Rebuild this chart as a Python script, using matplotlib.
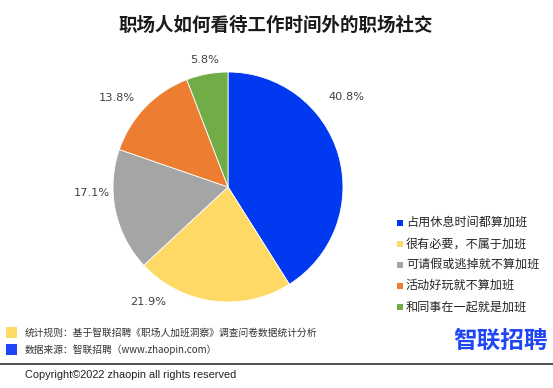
import numpy as np
import matplotlib
matplotlib.use("Agg")
import matplotlib.pyplot as plt
from matplotlib.patches import Rectangle
from matplotlib.lines import Line2D

plt.rcParams['font.family'] = ['Noto Sans CJK SC', 'DejaVu Sans']

title = "职场人如何看待工作时间外的职场社交"
categories = ["占用休息时间都算加班", "很有必要，不属于加班", "可请假或逃掉就不算加班",
              "活动好玩就不算加班", "和同事在一起就是加班"]
values = [40.8, 21.9, 17.1, 13.8, 5.8]
colors = ["#0039F0", "#FFD966", "#A5A5A5", "#ED7D31", "#70AD47"]
# label placement (angle in degrees, radius in pie radii)
label_angles = [37.1, 235.3, 182.5, 141.3, 100.3]
label_radii = [1.297, 1.216, 1.188, 1.237, 1.12]
note_lines = ["统计规则：基于智联招聘《职场人加班洞察》调查问卷数据统计分析",
              "数据来源：智联招聘（www.zhaopin.com）"]
note_colors = ["#FFD966", "#1F45F5"]
logo = "智联招聘"
copyright_text = "Copyright©2022 zhaopin all rights reserved"

W, H = 553, 388
fig = plt.figure(figsize=(W / 100, H / 100), dpi=100)
fig.patch.set_facecolor("white")

cx, cy, r = 228, 187, 115
ax = fig.add_axes([(cx - r) / W, (H - cy - r) / H, 2 * r / W, 2 * r / H])
ax.pie(values, colors=colors, startangle=90, counterclock=False, radius=1,
       wedgeprops=dict(linewidth=0.6, edgecolor="white"))
ax.set_xlim(-1, 1)
ax.set_ylim(-1, 1)
ax.set_aspect("equal")
ax.axis("off")
for v, a, rr in zip(values, label_angles, label_radii):
    t = np.deg2rad(a)
    ax.text(rr * np.cos(t), rr * np.sin(t), f"{v:.1f}%", ha="center", va="center",
            fontsize=8.2, color="#404040", family="DejaVu Sans", clip_on=False)

fig.text(276 / W, 1 - 25.5 / H, title, ha="center", va="center",
         fontsize=13.3, fontweight="bold", color="#1a1a1a")

# legend
ly0, ldy = 222.7, 21.0
for i, (c, lab) in enumerate(zip(colors, categories)):
    y = ly0 + i * ldy
    fig.patches.append(Rectangle(((397) / W, 1 - (y + 3) / H), 6 / W, 6 / H,
                                 transform=fig.transFigure, facecolor=c, edgecolor="none"))
    fig.text(406 / W, 1 - y / H, lab, ha="left", va="center", fontsize=8.7, color="#262626")

# footer notes
for i, (c, s) in enumerate(zip(note_colors, note_lines)):
    y = 332.5 + i * 17
    fig.patches.append(Rectangle((6 / W, 1 - (y + 5.5) / H), 11 / W, 11 / H,
                                 transform=fig.transFigure, facecolor=c, edgecolor="none"))
    fig.text(25 / W, 1 - y / H, s, ha="left", va="center", fontsize=7.0, color="#333333")

fig.text(548 / W, 1 - 341 / H, logo, ha="right", va="center", fontsize=17,
         fontweight="bold", color="#1F45F5")

fig.lines.append(Line2D([0, 1], [1 - 364 / H, 1 - 364 / H], transform=fig.transFigure,
                        color="#333333", linewidth=1.2))
fig.text(25 / W, 1 - 375 / H, copyright_text, ha="left", va="center", fontsize=7.9,
         color="#222222", family="Liberation Sans")

fig.savefig("out.png", dpi=100, facecolor="white")
